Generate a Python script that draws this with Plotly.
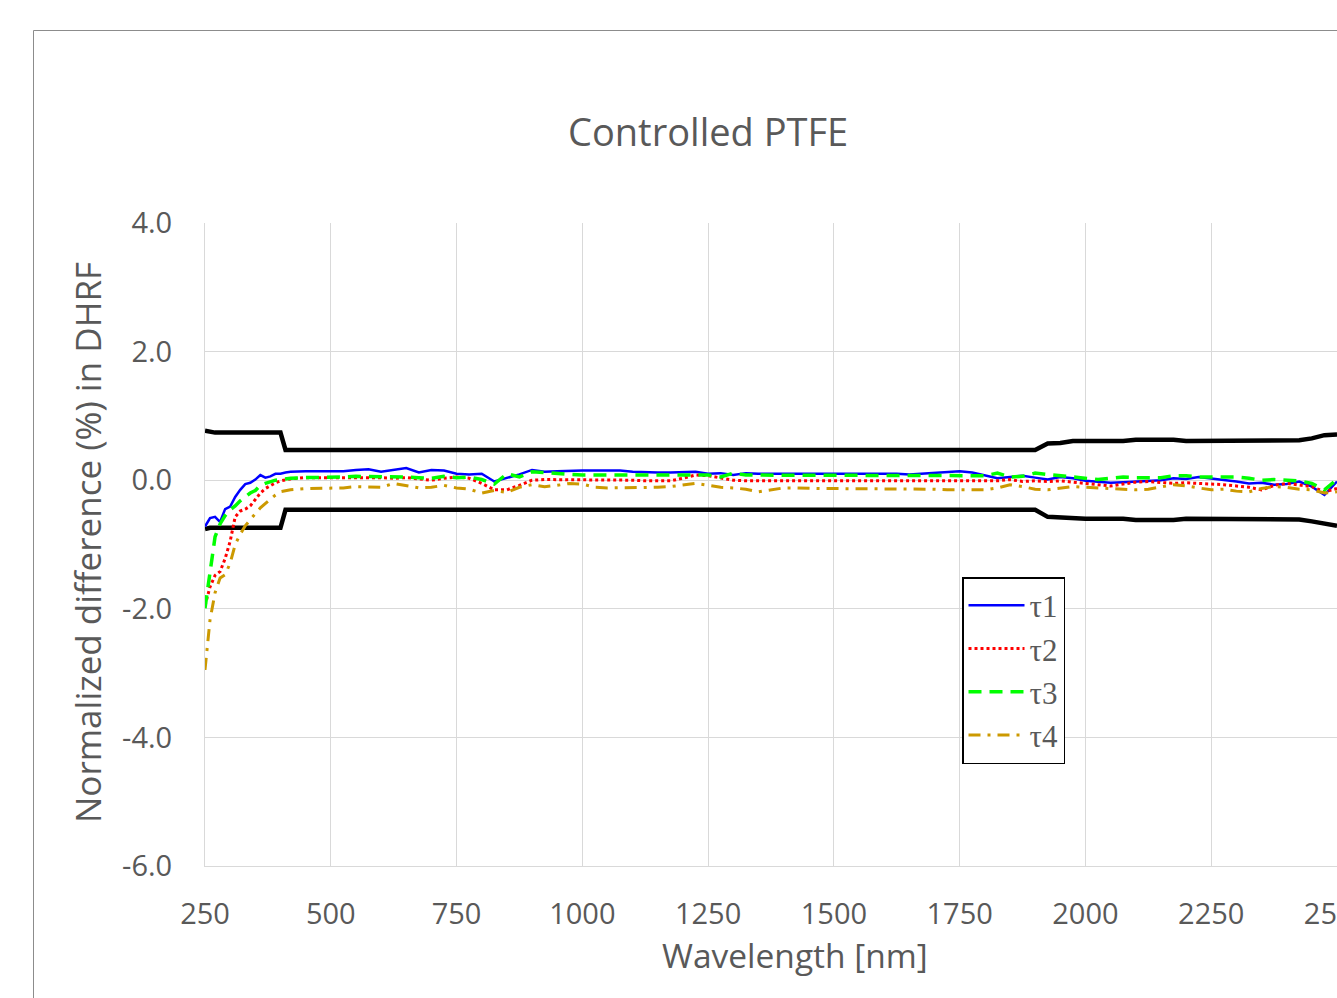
import plotly.graph_objects as go

# ---------------- data ----------------
wavelength = [
    250, 260, 270, 280, 290, 300, 310, 320, 330, 340,
    350, 360, 370, 380, 390, 400, 410, 420, 450, 475,
    500, 525, 550, 575, 600, 625, 650, 675, 700, 725,
    750, 775, 800, 825, 850, 875, 900, 925, 950, 975,
    1000, 1025, 1050, 1075, 1100, 1125, 1150, 1175, 1200, 1225,
    1250, 1275, 1300, 1325, 1350, 1375, 1400, 1425, 1450, 1475,
    1500, 1525, 1550, 1575, 1600, 1625, 1650, 1675, 1700, 1725,
    1750, 1775, 1800, 1825, 1850, 1875, 1900, 1925, 1950, 1975,
    2000, 2025, 2050, 2075, 2100, 2125, 2150, 2175, 2200, 2225,
    2250, 2275, 2300, 2325, 2350, 2375, 2400, 2425, 2450, 2475,
    2500,
]

upper_limit = [
    0.77, 0.75, 0.74, 0.74, 0.74, 0.74, 0.74, 0.74, 0.74, 0.74,
    0.74, 0.74, 0.74, 0.73, 0.74, 0.74, 0.47, 0.47, 0.47, 0.47,
    0.47, 0.47, 0.47, 0.47, 0.47, 0.47, 0.47, 0.47, 0.47, 0.47,
    0.47, 0.47, 0.47, 0.47, 0.47, 0.47, 0.47, 0.47, 0.47, 0.47,
    0.47, 0.47, 0.47, 0.47, 0.47, 0.47, 0.47, 0.47, 0.47, 0.47,
    0.47, 0.47, 0.47, 0.47, 0.47, 0.47, 0.47, 0.47, 0.47, 0.47,
    0.47, 0.47, 0.47, 0.47, 0.47, 0.47, 0.47, 0.47, 0.47, 0.47,
    0.47, 0.47, 0.47, 0.47, 0.47, 0.47, 0.47, 0.57, 0.58, 0.61,
    0.61, 0.61, 0.61, 0.61, 0.63, 0.63, 0.63, 0.63, 0.61, 0.61,
    0.61, 0.61, 0.61, 0.62, 0.62, 0.62, 0.62, 0.62, 0.65, 0.70,
    0.71,
]

lower_limit = [
    -0.76, -0.74, -0.74, -0.74, -0.74, -0.74, -0.74, -0.74, -0.74, -0.74,
    -0.74, -0.74, -0.74, -0.74, -0.74, -0.74, -0.46, -0.46, -0.46, -0.46,
    -0.46, -0.46, -0.46, -0.46, -0.46, -0.46, -0.46, -0.46, -0.46, -0.46,
    -0.46, -0.46, -0.46, -0.46, -0.46, -0.46, -0.46, -0.46, -0.46, -0.46,
    -0.46, -0.46, -0.46, -0.46, -0.46, -0.46, -0.46, -0.46, -0.46, -0.46,
    -0.46, -0.46, -0.46, -0.46, -0.46, -0.46, -0.46, -0.46, -0.46, -0.46,
    -0.46, -0.46, -0.46, -0.46, -0.46, -0.46, -0.46, -0.46, -0.46, -0.46,
    -0.46, -0.46, -0.46, -0.46, -0.46, -0.46, -0.46, -0.57, -0.58, -0.60,
    -0.60, -0.60, -0.60, -0.60, -0.62, -0.62, -0.62, -0.62, -0.60, -0.60,
    -0.60, -0.60, -0.60, -0.61, -0.61, -0.61, -0.61, -0.61, -0.64, -0.68,
    -0.71,
]

tau1 = [
    -0.72, -0.59, -0.57, -0.65, -0.45, -0.41, -0.26, -0.15, -0.06, -0.04,
    0.01, 0.08, 0.04, 0.06, 0.10, 0.10, 0.12, 0.13, 0.14, 0.14,
    0.14, 0.14, 0.16, 0.17, 0.13, 0.16, 0.19, 0.12, 0.16, 0.15,
    0.10, 0.09, 0.10, -0.02, 0.03, 0.09, 0.16, 0.13, 0.14, 0.15,
    0.15, 0.15, 0.15, 0.15, 0.13, 0.12, 0.12, 0.12, 0.13, 0.13,
    0.10, 0.11, 0.08, 0.11, 0.10, 0.10, 0.10, 0.10, 0.11, 0.10,
    0.11, 0.10, 0.11, 0.10, 0.10, 0.10, 0.09, 0.10, 0.11, 0.12,
    0.14, 0.12, 0.08, 0.03, 0.05, 0.07, 0.04, 0.01, 0.05, 0.03,
    -0.01, -0.02, -0.04, -0.03, -0.02, -0.02, 0.00, 0.03, 0.02, 0.05,
    0.03, 0.01, -0.02, -0.05, -0.04, -0.07, -0.06, -0.02, -0.10, -0.23,
    -0.02,
]

tau2 = [
    -1.95, -1.66, -1.48, -1.42, -1.22, -0.95, -0.57, -0.48, -0.45, -0.40,
    -0.30, -0.20, -0.13, -0.08, -0.04, -0.01, 0.01, 0.02, 0.04, 0.04,
    0.04, 0.04, 0.05, 0.04, 0.04, 0.03, 0.04, 0.02, 0.00, 0.03,
    0.05, 0.03, -0.05, -0.15, -0.15, -0.08, 0.00, 0.01, 0.01, 0.01,
    0.01, 0.01, 0.01, 0.01, 0.00, -0.01, -0.01, -0.01, 0.03, 0.08,
    0.07, 0.04, 0.00, -0.01, -0.01, -0.02, -0.01, -0.01, -0.02, -0.01,
    -0.01, -0.02, -0.01, -0.01, -0.02, -0.02, -0.02, -0.02, -0.01, -0.02,
    -0.02, -0.02, -0.01, -0.01, 0.01, -0.02, -0.01, -0.02, -0.01, -0.03,
    -0.05, -0.06, -0.09, -0.06, -0.03, -0.02, -0.04, -0.05, -0.04, -0.05,
    -0.05, -0.07, -0.09, -0.11, -0.15, -0.08, -0.05, -0.07, -0.10, -0.18,
    -0.13,
]

tau3 = [
    -1.99, -1.40, -0.88, -0.68, -0.55, -0.46, -0.40, -0.32, -0.26, -0.20,
    -0.16, -0.08, -0.05, -0.02, 0.00, 0.01, 0.02, 0.03, 0.04, 0.04,
    0.04, 0.05, 0.06, 0.06, 0.05, 0.06, 0.05, 0.04, 0.03, 0.06,
    0.04, 0.05, 0.01, -0.06, 0.10, 0.05, 0.13, 0.12, 0.10, 0.09,
    0.08, 0.08, 0.08, 0.08, 0.09, 0.08, 0.08, 0.08, 0.09, 0.08,
    0.08, 0.05, 0.11, 0.08, 0.08, 0.08, 0.08, 0.08, 0.08, 0.08,
    0.08, 0.08, 0.07, 0.08, 0.08, 0.07, 0.07, 0.07, 0.07, 0.07,
    0.07, 0.07, 0.07, 0.11, 0.05, 0.06, 0.11, 0.09, 0.07, 0.05,
    0.02, 0.01, 0.03, 0.05, 0.04, 0.04, 0.04, 0.07, 0.07, 0.05,
    0.05, 0.05, 0.05, 0.03, 0.00, 0.01, 0.00, -0.01, -0.05, -0.15,
    0.01,
]

tau4 = [
    -2.95, -2.17, -1.75, -1.52, -1.47, -1.29, -1.00, -0.84, -0.71, -0.61,
    -0.52, -0.43, -0.36, -0.29, -0.23, -0.18, -0.16, -0.15, -0.13, -0.13,
    -0.13, -0.12, -0.10, -0.11, -0.11, -0.05, -0.08, -0.12, -0.11, -0.08,
    -0.12, -0.14, -0.20, -0.16, -0.19, -0.11, -0.07, -0.10, -0.08, -0.05,
    -0.06, -0.11, -0.12, -0.12, -0.12, -0.12, -0.11, -0.10, -0.07, -0.05,
    -0.08, -0.11, -0.12, -0.14, -0.18, -0.15, -0.12, -0.12, -0.13, -0.13,
    -0.13, -0.13, -0.13, -0.13, -0.14, -0.13, -0.13, -0.13, -0.14, -0.15,
    -0.15, -0.15, -0.15, -0.12, -0.07, -0.10, -0.14, -0.15, -0.12, -0.10,
    -0.11, -0.12, -0.12, -0.13, -0.15, -0.14, -0.11, -0.07, -0.09, -0.12,
    -0.15, -0.14, -0.17, -0.18, -0.13, -0.10, -0.11, -0.14, -0.15, -0.20,
    -0.18,
]

series_names = ["τ1", "τ2", "τ3", "τ4"]
x_ticks = [250, 500, 750, 1000, 1250, 1500, 1750, 2000, 2250, 2500]
y_ticks = [-6.0, -4.0, -2.0, 0.0, 2.0, 4.0]

for s in (upper_limit, lower_limit, tau1, tau2, tau3, tau4):
    assert len(s) == len(wavelength)

# ---------------- figure ----------------
W, H = 1337, 998
L, R, T, B = 205, 0, 223, 132
PW = W - L - R
PH = H - T - B


def px_x(p):
    return (p - L) / PW


def px_y(p):
    return (H - B - p) / PH


fig = go.Figure()

for bound in (upper_limit, lower_limit):
    fig.add_trace(go.Scatter(
        x=wavelength, y=bound, mode="lines", showlegend=False,
        line=dict(color="black", width=4.5), hoverinfo="skip"))

styles = [
    dict(color="#0000FF", width=2.5, dash="solid"),
    dict(color="#FF0000", width=3, dash="dot"),
    dict(color="#00FF00", width=3.5, dash="13px,8px"),
    dict(color="#CC9900", width=3, dash="12px,7px,3px,7px"),
]
for name, vals, st in zip(series_names, [tau1, tau2, tau3, tau4], styles):
    fig.add_trace(go.Scatter(
        x=wavelength, y=vals, mode="lines", name=name, legendgroup=name,
        line=st))

grid = "#D9D9D9"
tick_font = dict(family="Open Sans", size=29, color="#595959")

fig.update_xaxes(
    range=[250, 2500], tickvals=x_ticks, ticktext=[str(v) for v in x_ticks],
    showgrid=True, gridcolor=grid, gridwidth=1, zeroline=False,
    showline=True, linecolor=grid, linewidth=1, ticks="",
    tickfont=tick_font, ticklabelstandoff=22, ticklabeloverflow="allow",
    automargin=False)
fig.update_yaxes(
    range=[-6, 4], tickvals=y_ticks, ticktext=["%.1f" % v for v in y_ticks],
    showgrid=True, gridcolor=grid, gridwidth=1, zeroline=False,
    showline=True, linecolor=grid, linewidth=1, ticks="",
    tickfont=tick_font, ticklabelstandoff=26, automargin=False)

label_col = "#595959"
fig.update_layout(
    width=W, height=H,
    margin=dict(l=L, r=R, t=T, b=B, pad=0, autoexpand=False),
    paper_bgcolor="white", plot_bgcolor="white",
    showlegend=True,
    legend=dict(
        x=px_x(962), y=px_y(577), xanchor="left", yanchor="top",
        bgcolor="white", bordercolor="black", borderwidth=1.5,
        font=dict(family="Liberation Serif", size=31, color=label_col),
        traceorder="grouped", tracegroupgap=0, itemwidth=56),
    annotations=[
        dict(text="Controlled PTFE", x=px_x(708), y=px_y(131),
             xref="paper", yref="paper", showarrow=False,
             xanchor="center", yanchor="middle",
             font=dict(family="Open Sans", size=38, color=label_col)),
        dict(text="Wavelength [nm]", x=px_x(795), y=px_y(955),
             xref="paper", yref="paper", showarrow=False,
             xanchor="center", yanchor="middle",
             font=dict(family="Open Sans", size=33.5, color=label_col)),
        dict(text="Normalized difference (%) in DHRF", x=px_x(87), y=px_y(543),
             xref="paper", yref="paper", showarrow=False, textangle=-90,
             xanchor="center", yanchor="middle",
             font=dict(family="Open Sans", size=35, color=label_col)),
    ],
    shapes=[
        dict(type="line", xref="paper", yref="paper",
             x0=px_x(33.5), x1=px_x(33.5), y0=px_y(30.5), y1=px_y(1010),
             line=dict(color="#8C8C8C", width=1)),
        dict(type="line", xref="paper", yref="paper",
             x0=px_x(33.5), x1=px_x(1345), y0=px_y(30.5), y1=px_y(30.5),
             line=dict(color="#8C8C8C", width=1)),
    ],
)

fig.write_html("out.html")
